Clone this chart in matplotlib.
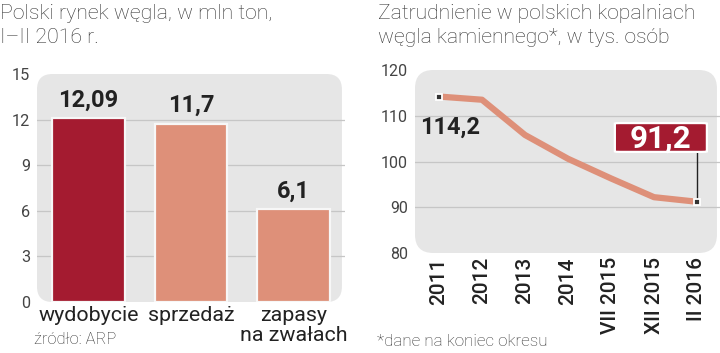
import matplotlib
matplotlib.use("Agg")
import matplotlib.pyplot as plt
from matplotlib.patches import FancyBboxPatch
from matplotlib.transforms import blended_transform_factory, offset_copy

# ---- data ----
bar_categories = ["wydobycie", "sprzedaż", "zapasy\nna zwałach"]
bar_values = [12.09, 11.7, 6.1]
bar_labels = ["12,09", "11,7", "6,1"]
bar_yticks = [0, 3, 6, 9, 12, 15]

line_periods = ["2011", "2012", "2013", "2014", "VII 2015", "XII 2015", "II 2016"]
line_values = [114.2, 113.5, 105.8, 100.6, 96.3, 92.2, 91.2]
line_yticks = [80, 90, 100, 110, 120]

plt.rcParams["font.family"] = ["Roboto", "DejaVu Sans"]

DARK = "#a41b30"
SALMON = "#de9079"
BG = "#e6e6e6"
GRID = "#c6c6c6"
TXT = "#222222"

fig = plt.figure(figsize=(7.2, 3.53), dpi=100)
W, H = 720, 353
r = fig.canvas.get_renderer()


def size_for(s, target, weight="normal", rotation=0, use_height=False, base=12):
    """font size (pt) at which string s spans `target` pixels"""
    t = fig.text(0, 0, s, fontsize=base, fontweight=weight, rotation=rotation)
    bb = t.get_window_extent(r)
    t.remove()
    cur = bb.height if use_height else bb.width
    return base * target / cur


def ax_rect(x0, x1, ytop, ybot):
    return [x0 / W, 1 - ybot / H, (x1 - x0) / W, (ybot - ytop) / H]


# font sizes fitted to the reference widths
fs_title1 = size_for("Polski rynek węgla, w mln ton,", 271, "light")
fs_title2 = size_for("Zatrudnienie w polskich kopalniach", 315, "light")
fs_src = size_for("źródło: ARP", 82, "light")
fs_note = size_for("*dane na koniec okresu", 170, "light")
fs_val = size_for("12,09", 60, "bold")
fs_91 = size_for("91,2", 62, "bold")
fs_cat = size_for("wydobycie", 100)
fs_per = size_for("2011", 47, "medium", rotation=90, use_height=True)
fs_y1 = size_for("15", 18)
fs_y2 = size_for("120", 27)

# ---------- left chart ----------
ax1 = fig.add_axes(ax_rect(37, 345, 74, 302))
ax1.set_xlim(-0.5, 2.5)
ax1.set_ylim(0, 15)
ax1.set_facecolor("none")
bg1 = FancyBboxPatch((0.0, 0.0), 0.99, 1.0, boxstyle="round,pad=0,rounding_size=0.05",
                     transform=ax1.transAxes, facecolor=BG, edgecolor="none", zorder=0,
                     mutation_aspect=308/228)
ax1.add_patch(bg1)
for t in bar_yticks[1:-1]:
    ax1.axhline(t, color=GRID, lw=0.9, zorder=1)
colors = [DARK, SALMON, SALMON]
ax1.bar(range(3), bar_values, width=0.71, color=colors, edgecolor="#f7f7f7",
        linewidth=1.6, zorder=2)
for i, (v, lab) in enumerate(zip(bar_values, bar_labels)):
    ax1.annotate(lab, (i, v), xytext=(0, 5), textcoords="offset points",
                 ha="center", va="bottom", fontsize=fs_val, fontweight="bold",
                 color=TXT, zorder=3)
ax1.set_yticks(bar_yticks)
ax1.set_yticklabels([str(t) for t in bar_yticks], fontsize=fs_y1, color="#444444")
ax1.set_xticks(range(3))
ax1.set_xticklabels([])
ax1.tick_params(axis="both", length=0, pad=2)
ax1.tick_params(axis="y", pad=5)
for s in ax1.spines.values():
    s.set_visible(False)
cat_tr = offset_copy(blended_transform_factory(ax1.transData, ax1.transAxes), fig=fig,
                     x=0, y=-4, units="dots")
for i, c in enumerate(bar_categories):
    ax1.text(i, 0, c, transform=cat_tr, ha="center", va="top", fontsize=fs_cat,
             color=TXT, linespacing=1.05, clip_on=False)

fig.text(0.0, 1 - 4 / H, "Polski rynek węgla, w mln ton,\nI–II 2016 r.", ha="left",
         va="top", fontsize=fs_title1, color="#333333", linespacing=1.32, fontweight="light")
fig.text(34 / W, 1 - 340 / H, "źródło: ARP", ha="left", va="center", fontsize=fs_src,
         color="#333333", fontweight="light")

# ---------- right chart ----------
sp = 43.0
x0d = 439.0
ax2 = fig.add_axes(ax_rect(415, 720, 70, 253))
ax2.set_xlim((415 - x0d) / sp, (720 - x0d) / sp)
ax2.set_ylim(80, 120)
ax2.set_facecolor("none")
bg2 = FancyBboxPatch((0.0, 0.0), 0.99, 1.0, boxstyle="round,pad=0,rounding_size=0.06",
                     transform=ax2.transAxes, facecolor=BG, edgecolor="none", zorder=0,
                     mutation_aspect=305/183)
ax2.add_patch(bg2)
for t in line_yticks[1:-1]:
    ax2.axhline(t, color=GRID, lw=0.9, zorder=1)
xs = list(range(len(line_values)))
ax2.plot(xs, line_values, color=SALMON, lw=4.5, solid_capstyle="butt", zorder=2)
ax2.plot([xs[0], xs[-1]], [line_values[0], line_values[-1]], ls="none", marker="s",
         markersize=5, markerfacecolor="#333333", markeredgecolor="white",
         markeredgewidth=1.3, zorder=4)
ax2.annotate("114,2", (xs[0], line_values[0]), xytext=(0.26, 107.4), textcoords="data",
             ha="center", va="center", fontsize=fs_val, fontweight="bold", color=TXT, zorder=3)
# callout box for last value
bx0, bx1, by0, by1 = 4.09, 6.23, 102.1, 108.4
ax2.plot([xs[-1], xs[-1]], [line_values[-1] + 0.4, by0], color="#222222", lw=1, zorder=3)
box = FancyBboxPatch((bx0, by0), bx1 - bx0, by1 - by0,
                     boxstyle="round,pad=0,rounding_size=0.12", mutation_aspect=4.575 / 43 * 8,
                     facecolor=DARK, edgecolor="white", linewidth=1.6, zorder=5)
ax2.add_patch(box)
ax2.text((bx0 + bx1) / 2, (by0 + by1) / 2 - 0.2, "91,2", ha="center", va="center",
         fontsize=fs_91, fontweight="bold", color="white", zorder=6)
ax2.set_yticks(line_yticks)
ax2.set_yticklabels([str(t) for t in line_yticks], fontsize=fs_y2, color="#444444")
ax2.set_xticks(xs)
ax2.set_xticklabels(line_periods, rotation=90, fontsize=fs_per, color=TXT, fontweight="medium")
ax2.tick_params(axis="both", length=0)
ax2.tick_params(axis="y", pad=5)
ax2.tick_params(axis="x", pad=3)
for s in ax2.spines.values():
    s.set_visible(False)

fig.text(377 / W, 1 - 342 / H, "*dane na koniec okresu", ha="left", va="center",
         fontsize=fs_note, color="#333333", fontweight="light")
fig.text(378 / W, 1 - 4 / H, "Zatrudnienie w polskich kopalniach\nwęgla kamiennego*, w tys. osób",
         ha="left", va="top", fontsize=fs_title2, color="#333333", linespacing=1.32,
         fontweight="light")

fig.savefig("out.png", dpi=100)
